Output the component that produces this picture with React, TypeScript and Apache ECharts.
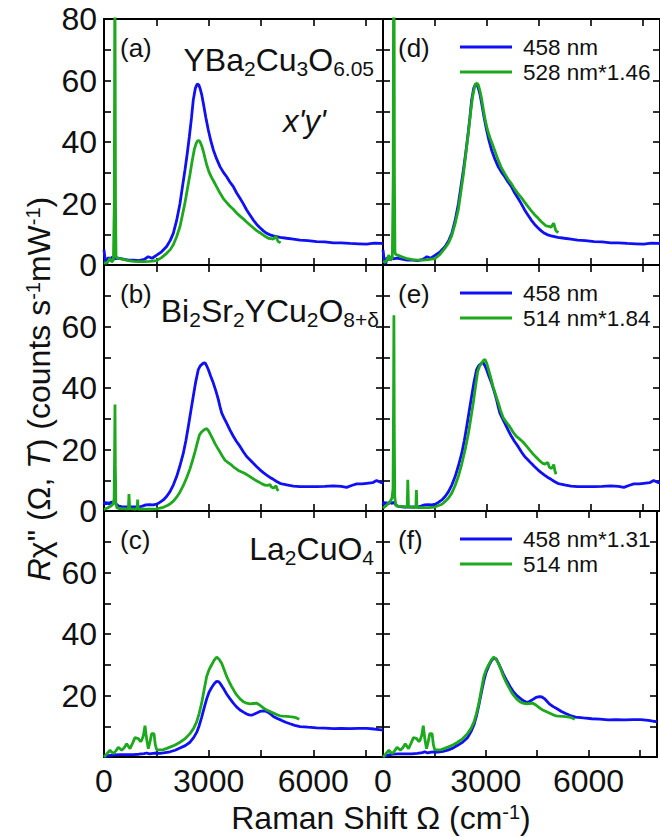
import React, { useEffect, useRef } from 'react';
import * as echarts from 'echarts';

// ---------------- data ----------------
const X_LABELS = [0, 3000, 6000];
const Y_LABELS_TOP = [0, 20, 40, 60, 80];
const Y_LABELS_MID = [0, 20, 40, 60];
const Y_LABELS_BOT = [20, 40, 60];

// (a) YBa2Cu3O6.05, 458 nm
const blueA = [[0,4.9],[40,1.0],[80,0.4],[120,2.5],[170,1.6],[230,2.6],[300,2.0],[400,2.2],[550,1.9],[700,1.6],[850,1.6],[1000,1.4],[1150,1.8],[1270,2.7],[1380,2.2],[1510,3.2],[1650,4.3],[1796,6.0],[1900,8.0],[1987,10.3],[2083,14.5],[2179,20.0],[2250,25.5],[2322,30.9],[2390,36.5],[2447,41.7],[2510,48],[2560,53.7],[2620,57.5],[2676,58.9],[2720,58.5],[2753,57.5],[2800,55.5],[2848,52.6],[2920,48],[2991,43.9],[3060,40.5],[3135,37.4],[3230,34.5],[3326,32.0],[3420,30.2],[3517,28.7],[3610,27.0],[3708,25.5],[3800,23.5],[3900,21.7],[4000,19.8],[4091,17.9],[4190,16.2],[4282,14.6],[4380,13.2],[4473,12.1],[4570,11.1],[4664,10.3],[4760,9.8],[4855,9.5],[5050,9.0],[5237,8.7],[5430,8.4],[5620,8.1],[5850,7.9],[6097,7.6],[6330,7.5],[6575,7.2],[6800,7.2],[7053,7.0],[7300,6.9],[7530,6.8],[7750,7.1],[7960,7.0],[8000,7.0]];
// (a) YBa2Cu3O6.05, 528 nm
const greenA = [[0,0.8],[60,0.6],[120,1.2],[170,2.2],[220,1.0],[270,1.6],[295,20],[312,100],[330,20],[345,3],[360,2.4],[420,2.2],[550,1.8],[700,1.4],[850,1.2],[1000,1.1],[1150,1.1],[1300,1.2],[1500,1.4],[1650,2.4],[1796,3.8],[1900,5.0],[1987,6.6],[2083,9.2],[2179,12.5],[2250,16.3],[2322,20.2],[2400,25.3],[2466,29.5],[2530,34],[2590,37.6],[2640,39.5],[2676,40.3],[2720,40.5],[2753,40.1],[2800,38.8],[2848,37.0],[2900,34.6],[2944,32.6],[3010,30.3],[3087,28.4],[3160,26.9],[3231,25.4],[3330,23.3],[3422,21.6],[3520,20.3],[3613,19.1],[3700,18.2],[3804,16.9],[3900,15.9],[3995,15.0],[4090,14.0],[4187,13.0],[4280,12.1],[4378,11.2],[4470,10.5],[4568,9.7],[4640,9.2],[4712,8.7],[4790,8.6],[4855,8.4],[4900,9.0],[4932,9.3],[4970,8.2],[4998,7.6],[5065,7.2]];

// (b) Bi2Sr2YCu2O8+d, 458 nm
const blueB = [[0,2.0],[30,3.0],[60,2.2],[100,2.8],[150,2.2],[200,3.0],[260,2.4],[300,2.9],[350,2.3],[420,1.6],[500,1.4],[600,1.3],[700,1.3],[850,1.3],[1000,1.3],[1100,1.6],[1200,2.0],[1300,2.1],[1414,2.0],[1510,2.2],[1600,2.8],[1701,3.6],[1800,4.8],[1892,6.3],[1990,8.5],[2083,11.2],[2180,14.8],[2275,18.8],[2350,23],[2418,27.5],[2490,32.5],[2560,37.3],[2630,42],[2704,46],[2760,47.2],[2800,47.6],[2850,48.1],[2895,48.2],[2940,47.3],[2991,46],[3060,43.8],[3135,41.6],[3210,39],[3279,36.2],[3330,33.8],[3374,31.9],[3440,30.3],[3517,28.6],[3610,26.4],[3708,24.3],[3800,22.6],[3900,21],[4000,19.2],[4091,17.7],[4190,16.6],[4282,15.5],[4380,14.4],[4473,13.4],[4570,12.5],[4664,11.7],[4760,10.9],[4855,10.3],[4950,9.6],[5046,9.0],[5140,8.7],[5237,8.5],[5430,8.1],[5620,7.9],[5850,7.9],[6097,7.9],[6330,8.0],[6575,8.2],[6800,8.0],[6957,7.7],[7100,8.3],[7244,8.8],[7400,8.8],[7530,9.0],[7700,9.2],[7817,9.9],[7960,9.2],[8000,9.4]];
// (b) Bi2Sr2YCu2O8+d, 514 nm
const greenB = [[0,0.5],[100,1.0],[200,1.6],[260,2.3],[290,4],[305,20],[315,34.6],[325,15],[340,2.5],[370,1.0],[450,0.8],[550,0.8],[650,0.7],[700,0.8],[716,5.5],[736,0.8],[800,0.7],[900,0.6],[950,0.8],[965,3.7],[980,0.6],[1100,0.6],[1300,0.6],[1500,0.7],[1701,1.2],[1800,1.7],[1892,2.3],[1990,3.2],[2083,4.5],[2180,6.2],[2275,8.3],[2370,10.8],[2466,13.7],[2540,16.5],[2609,19.2],[2670,21.9],[2733,24.6],[2790,25.6],[2848,26.2],[2900,26.6],[2944,26.8],[2990,26.2],[3039,25.2],[3110,23.6],[3183,21.9],[3250,20.6],[3326,19.2],[3400,17.7],[3470,16.5],[3560,15.7],[3661,14.9],[3750,14],[3852,13.2],[3950,12.7],[4043,12.2],[4140,11.5],[4234,10.8],[4330,10.1],[4425,9.5],[4520,8.9],[4616,8.4],[4680,8.3],[4759,8.6],[4800,7.8],[4855,7.5],[4900,7.8],[4932,8.2],[4960,7.2],[4998,6.5]];

// (c) La2CuO4, 458 nm
const blueC = [[0,0],[80,0.3],[172,0.5],[300,0.7],[459,0.8],[600,0.8],[841,0.8],[1000,0.9],[1150,1.1],[1223,1.3],[1300,1.0],[1414,1.2],[1500,1.3],[1606,1.2],[1750,1.4],[1892,1.7],[2040,2.2],[2179,2.9],[2330,3.7],[2466,4.8],[2570,6.3],[2657,8.0],[2730,10.2],[2800,12.9],[2870,15.9],[2944,18.9],[3010,21],[3087,22.6],[3160,23.8],[3231,24.6],[3300,24.4],[3374,23.2],[3440,22],[3517,20.5],[3610,19],[3708,17.5],[3800,16.3],[3900,15.3],[4000,14.6],[4091,14.0],[4160,13.7],[4234,13.6],[4300,13.9],[4378,14.3],[4470,14.8],[4568,15.0],[4640,14.9],[4712,14.5],[4780,13.9],[4855,13.2],[4970,12.5],[5094,11.9],[5210,11.3],[5333,10.8],[5470,10.3],[5620,9.9],[5850,9.7],[6097,9.5],[6330,9.4],[6575,9.2],[6800,9.3],[7053,9.2],[7300,9.3],[7530,9.3],[7750,9.1],[7960,8.8],[8000,8.9]];
// (c) La2CuO4, 514 nm
const greenC = [[0,0],[80,1.0],[172,2.2],[267,1.1],[340,2.0],[411,3.2],[507,2.2],[580,3.0],[650,4.3],[746,2.7],[820,4.5],[889,6.3],[984,6.0],[1050,5.0],[1080,5.4],[1130,7],[1176,10.2],[1220,6],[1271,2.7],[1320,5],[1367,7.6],[1434,7.6],[1470,4],[1510,2.4],[1600,2.3],[1701,2.4],[1800,2.8],[1892,3.2],[2040,3.9],[2179,4.8],[2330,6.0],[2466,7.6],[2570,9.3],[2657,11.4],[2730,14.2],[2800,17.5],[2870,21.8],[2944,26.2],[3010,28.3],[3087,30],[3160,31.5],[3231,32.5],[3300,31.8],[3374,30.5],[3440,28.5],[3517,26.2],[3590,24.4],[3661,22.9],[3730,21.5],[3804,20.2],[3900,18.9],[3995,18.0],[4090,17.5],[4187,17.3],[4280,17.4],[4378,17.5],[4450,17.0],[4521,16.4],[4590,15.8],[4664,15.3],[4760,14.8],[4855,14.3],[4950,13.8],[5046,13.4],[5140,13.3],[5237,13.2],[5330,13.1],[5428,13.0],[5520,12.7],[5600,12.3]];

// scale factors given in the legends of (d), (e), (f)
const SCALE_D_GREEN = 1.46;
const SCALE_E_GREEN = 1.84;
const SCALE_F_BLUE = 1.31;

const scale = (arr: number[][], k: number) => arr.map(([x, y]) => [x, +(y * k).toFixed(3)]);

// ---------------- styling / layout ----------------
const FONT = "'Liberation Sans', Arial, Helvetica, sans-serif";
const BLUE = '#1010f4';
const GREEN = '#1ea81e';
const INK = '#111';
const COL_LEFT = [104, 383];
const COL_WIDTH = [279, 277];
const ROW_TOP = [19, 265, 511];
const ROW_H = 246;
const LW = 2.8;

type Panel = {
  col: number; row: number; label: string;
  blueName: string; greenName: string;
  blue: number[][]; green: number[][];
  legend: boolean;
};

const PANELS: Panel[] = [
  { col: 0, row: 0, label: '(a)', blueName: '458 nm', greenName: '528 nm', blue: blueA, green: greenA, legend: false },
  { col: 0, row: 1, label: '(b)', blueName: '458 nm', greenName: '514 nm', blue: blueB, green: greenB, legend: false },
  { col: 0, row: 2, label: '(c)', blueName: '458 nm', greenName: '514 nm', blue: blueC, green: greenC, legend: false },
  { col: 1, row: 0, label: '(d)', blueName: '458 nm', greenName: '528 nm*1.46', blue: blueA, green: scale(greenA, SCALE_D_GREEN), legend: true },
  { col: 1, row: 1, label: '(e)', blueName: '458 nm', greenName: '514 nm*1.84', blue: blueB, green: scale(greenB, SCALE_E_GREEN), legend: true },
  { col: 1, row: 2, label: '(f)', blueName: '458 nm*1.31', greenName: '514 nm', blue: scale(blueC, SCALE_F_BLUE), green: greenC, legend: true },
];

const ROW_Y_LABELS = [Y_LABELS_TOP, Y_LABELS_MID, Y_LABELS_BOT];

function buildOption() {
  const grid: any[] = [];
  const xAxis: any[] = [];
  const yAxis: any[] = [];
  const series: any[] = [];
  const graphic: any[] = [];

  const axisLine = { show: true, onZero: false, lineStyle: { color: '#000', width: 2 } };
  const axisTick = { show: true, inside: true, length: 7, lineStyle: { color: '#000', width: 1.6 } };

  PANELS.forEach((p, i) => {
    grid.push({ left: COL_LEFT[p.col], top: ROW_TOP[p.row], width: COL_WIDTH[p.col], height: ROW_H, containLabel: false });
    const showX = p.row === 2;
    xAxis.push({
      type: 'value', gridIndex: i, min: 0, max: 8000, interval: 1500, position: 'bottom',
      axisLine, axisTick, splitLine: { show: false },
      axisLabel: {
        show: showX, margin: 8, color: INK, fontSize: 32, lineHeight: 32, fontFamily: FONT,
        formatter: (v: number) => (X_LABELS.includes(v) ? String(v) : ''),
      },
    });
    const labs = ROW_Y_LABELS[p.row];
    yAxis.push({
      type: 'value', gridIndex: i, min: 0, max: 80, interval: 10, position: 'left',
      axisLine, axisTick, splitLine: { show: false },
      axisLabel: {
        show: p.col === 0, margin: 7, color: INK, fontSize: 32, fontFamily: FONT,
        formatter: (v: number) => (labs.includes(v) ? String(v) : ''),
      },
    });
    series.push({
      type: 'line', name: p.blueName, xAxisIndex: i, yAxisIndex: i, data: p.blue,
      showSymbol: false, symbol: 'none', clip: true,
      lineStyle: { color: BLUE, width: LW }, itemStyle: { color: BLUE }, z: 2,
    });
    series.push({
      type: 'line', name: p.greenName, xAxisIndex: i, yAxisIndex: i, data: p.green,
      showSymbol: false, symbol: 'none', clip: true,
      lineStyle: { color: GREEN, width: LW }, itemStyle: { color: GREEN }, z: 3,
    });
  });
  // frame axes (top / right) with inward ticks
  PANELS.forEach((p, i) => {
    xAxis.push({
      type: 'value', gridIndex: i, min: 0, max: 8000, interval: 1500, position: 'top',
      axisLine, axisTick, splitLine: { show: false }, axisLabel: { show: false },
    });
    yAxis.push({
      type: 'value', gridIndex: i, min: 0, max: 80, interval: 10, position: 'right',
      axisLine, axisTick, splitLine: { show: false }, axisLabel: { show: false },
    });
  });

  const txt = (x: number, y: number, text: string, opts: any = {}) => ({
    type: 'text', x, y, rotation: opts.rotation || 0, z: 100, silent: true,
    style: {
      text, fill: INK, fontFamily: FONT, fontSize: opts.fontSize || 26,
      fontStyle: opts.fontStyle || 'normal',
      align: opts.align || 'left', verticalAlign: opts.verticalAlign || 'middle',
      textAlign: opts.align || 'left', textVerticalAlign: opts.verticalAlign || 'middle',
      rich: opts.rich,
    },
  });

  // panel labels + legends
  PANELS.forEach((p) => {
    const x = p.col === 0 ? 120 : 398;
    const y = ROW_TOP[p.row] + 29;
    graphic.push(txt(x, y, p.label, { fontSize: 26 }));
    if (p.legend) {
      const rows = [p.blueName, p.greenName];
      const cols = [BLUE, GREEN];
      const ys = [ROW_TOP[p.row] + 28, ROW_TOP[p.row] + 53];
      rows.forEach((name, k) => {
        graphic.push({
          type: 'line', z: 100, silent: true,
          shape: { x1: 460, y1: ys[k], x2: 512, y2: ys[k] },
          style: { stroke: cols[k], lineWidth: LW },
        });
        graphic.push(txt(523, ys[k], name, { fontSize: 22.5 }));
      });
    }
  });

  const compRich = {
    m: { fontSize: 32, fontFamily: FONT, fill: INK, color: INK, lineHeight: 38, verticalAlign: 'middle' },
    s: { fontSize: 21, fontFamily: FONT, fill: INK, color: INK, lineHeight: 18, verticalAlign: 'bottom' },
  };
  graphic.push(txt(374, 60, '{m|YBa}{s|2}{m|Cu}{s|3}{m|O}{s|6.05}', { align: 'right', rich: compRich }));
  graphic.push(txt(379, 311, '{m|Bi}{s|2}{m|Sr}{s|2}{m|YCu}{s|2}{m|O}{s|8+δ}', { align: 'right', rich: compRich }));
  graphic.push(txt(374, 549, '{m|La}{s|2}{m|CuO}{s|4}', { align: 'right', rich: compRich }));
  graphic.push(txt(283, 121, "x'y'", { fontSize: 31, fontStyle: 'italic' }));

  // axis titles
  const titleRich = {
    n: { fontSize: 32, fontFamily: FONT, fill: INK, color: INK, lineHeight: 33, verticalAlign: 'middle' },
    i: { fontSize: 32, fontFamily: FONT, fill: INK, color: INK, fontStyle: 'italic', lineHeight: 33, verticalAlign: 'middle' },
    p: { fontSize: 20, fontFamily: FONT, fill: INK, color: INK, lineHeight: 18, verticalAlign: 'top' },
  };
  graphic.push(txt(381, 818, '{n|Raman Shift Ω (cm}{p|-1}{n|)}', { align: 'center', rich: titleRich }));
  graphic.push(txt(39, 389, "{i|R}{n|χ\" (Ω, }{i|T}{n|) (counts s}{p|-1}{n|mW}{p|-1}{n|)}", {
    align: 'center', rich: titleRich, rotation: Math.PI / 2,
  }));

  return {
    animation: false,
    backgroundColor: '#fff',
    grid, xAxis, yAxis, series, graphic,
  };
}

export default function App() {
  const ref = useRef<HTMLDivElement>(null);
  useEffect(() => {
    if (!ref.current) return;
    const chart = echarts.init(ref.current, undefined, { renderer: 'svg' });
    chart.setOption(buildOption() as any);
    return () => chart.dispose();
  }, []);
  return (
    <div
      ref={ref}
      style={{ position: 'absolute', left: 0, top: 0, width: 660, height: 837, background: '#fff' }}
    />
  );
}
